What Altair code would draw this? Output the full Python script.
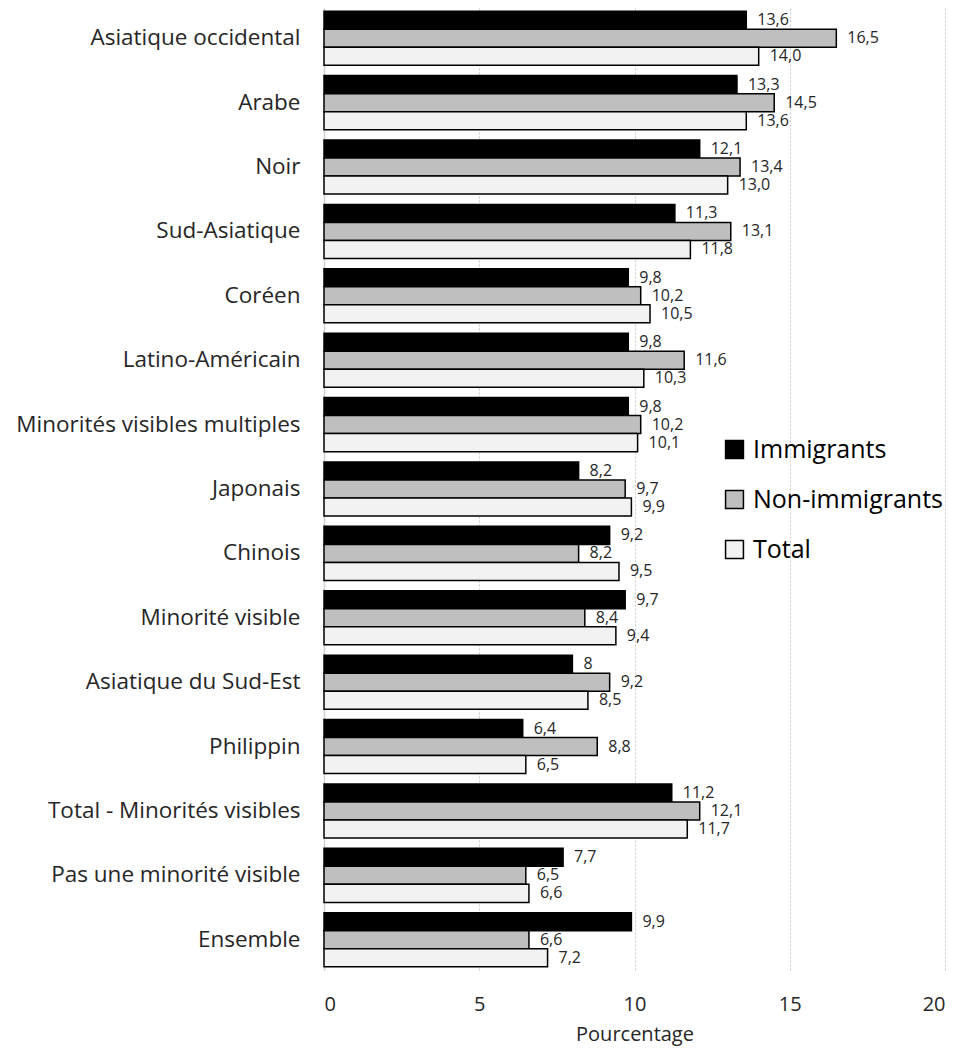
import altair as alt
import pandas as pd

categories = ["Asiatique occidental", "Arabe", "Noir", "Sud-Asiatique", "Coréen",
              "Latino-Américain", "Minorités visibles multiples", "Japonais", "Chinois",
              "Minorité visible", "Asiatique du Sud-Est", "Philippin",
              "Total - Minorités visibles", "Pas une minorité visible", "Ensemble"]
series = ["Immigrants", "Non-immigrants", "Total"]
immigrants = ["13,6", "13,3", "12,1", "11,3", "9,8", "9,8", "9,8", "8,2", "9,2", "9,7", "8", "6,4", "11,2", "7,7", "9,9"]
non_immigrants = ["16,5", "14,5", "13,4", "13,1", "10,2", "11,6", "10,2", "9,7", "8,2", "8,4", "9,2", "8,8", "12,1", "6,5", "6,6"]
total = ["14,0", "13,6", "13,0", "11,8", "10,5", "10,3", "10,1", "9,9", "9,5", "9,4", "8,5", "6,5", "11,7", "6,6", "7,2"]
colors = ["#000000", "#BFBFBF", "#F2F2F2"]

rows = []
for s, vals in zip(series, [immigrants, non_immigrants, total]):
    for c, v in zip(categories, vals):
        rows.append({"cat": c, "series": s, "value": float(v.replace(",", ".")), "label": v})
df = pd.DataFrame(rows)

FONT = "Open Sans"

y = alt.Y("cat:N", sort=categories, title=None,
          scale=alt.Scale(paddingInner=0.16, paddingOuter=0.05),
          axis=alt.Axis(labelFont=FONT, labelFontSize=22.5, labelColor="#262626",
                        ticks=False, labelPadding=24, domainColor="#D0D0D0",
                        domainWidth=1.5, labelLimit=400))
yoff = alt.YOffset("series:N", sort=series, scale=alt.Scale(paddingInner=0, paddingOuter=0))
x = alt.X("value:Q", title="Pourcentage",
          scale=alt.Scale(domain=[0, 20], nice=False),
          axis=alt.Axis(values=[0, 5, 10, 15, 20], format="d", labelFont=FONT,
                        labelFontSize=20, labelColor="#262626", ticks=False,
                        domain=False, labelPadding=24, titleFont=FONT,
                        titleFontSize=20, titleFontWeight="normal", titleColor="#262626",
                        titlePadding=10, grid=True, gridColor="#C8C8C8",
                        gridDash=[2, 2], gridWidth=1))

bars = alt.Chart(df).mark_bar(stroke="#000000", strokeWidth=1.5).encode(
    x=x, y=y, yOffset=yoff,
    color=alt.Color("series:N", sort=series,
                    scale=alt.Scale(domain=series, range=colors),
                    legend=alt.Legend(title=None, orient="none", legendX=398, legendY=429,
                                      symbolType="square", symbolSize=320,
                                      symbolStrokeColor="#000000", symbolStrokeWidth=1.5,
                                      labelFont=FONT, labelFontSize=25, labelColor="#000000",
                                      rowPadding=24, labelOffset=6, labelLimit=300)))

text = alt.Chart(df).mark_text(align="left", baseline="middle", dx=11, font=FONT,
                               fontSize=16, color="#262626").encode(
    x="value:Q", y=alt.Y("cat:N", sort=categories), yOffset=yoff, text="label:N")

chart = alt.layer(bars, text).properties(
    width=621, height=962, autosize="none",
    padding={"left": 316, "top": 0, "right": 5, "bottom": 79}
).configure_view(stroke=None)

chart.save("out.html", embed_options={"renderer": "svg", "actions": False})
